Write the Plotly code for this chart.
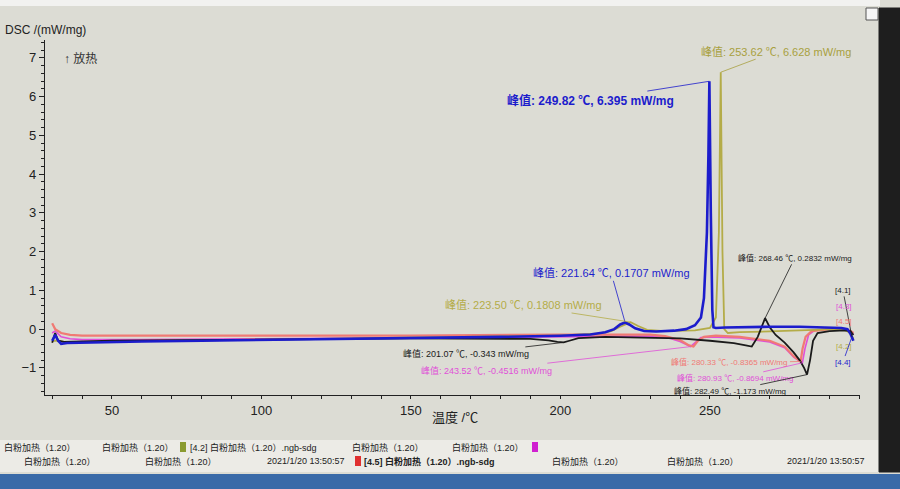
import plotly.graph_objects as go

# --- data (temperature in C, DSC in mW/mg) ---
t_blue = [30, 31, 32, 33, 35, 40, 50, 60, 80, 100, 120, 140, 160, 180, 200, 210, 215, 218, 220,
          221.64, 223, 225, 228, 232, 238, 242, 245, 247, 248, 249, 249.5, 249.82, 250.3, 250.8,
          251.2, 252, 255, 260, 270, 280, 290, 294, 296, 297, 298]
dsc_blue = [-0.3, -0.15, -0.3, -0.38, -0.36, -0.35, -0.33, -0.32, -0.3, -0.28, -0.26, -0.25, -0.23,
            -0.2, -0.17, -0.14, -0.08, 0.0, 0.12, 0.17, 0.12, 0.02, -0.05, -0.06, -0.04, 0.0, 0.1,
            0.3, 0.8, 2.5, 4.5, 6.395, 3.0, 0.5, 0.05, 0.03, 0.04, 0.05, 0.06, 0.06, 0.05, 0.03,
            0.0, -0.12, -0.3]

t_olive = [30, 32, 35, 50, 100, 150, 200, 212, 217, 220, 223.5, 226, 229, 235, 245, 250, 252,
           253, 253.62, 254.2, 254.8, 256, 260, 270, 280, 285, 290, 295, 297, 298]
dsc_olive = [-0.3, -0.3, -0.35, -0.32, -0.27, -0.22, -0.16, -0.12, -0.05, 0.06, 0.18, 0.08, -0.02,
             -0.05, -0.03, 0.03, 0.3, 2.5, 6.628, 2.0, 0.0, -0.1, -0.08, -0.06, -0.04, -0.02, 0.0,
             -0.02, -0.1, -0.25]

t_black = [30, 31, 32, 34, 50, 100, 150, 190, 196, 199, 201.07, 203, 206, 215, 230, 240, 250, 258,
           262, 264, 266, 268.46, 270, 272, 275, 278, 280, 281.5, 282.49, 283.5, 284.5, 286, 290,
           295, 297, 298]
dsc_black = [-0.35, -0.1, -0.3, -0.33, -0.3, -0.27, -0.24, -0.25, -0.29, -0.33, -0.343, -0.3,
             -0.23, -0.2, -0.22, -0.24, -0.3, -0.36, -0.42, -0.45, -0.2, 0.2832, 0.05, -0.15,
             -0.35, -0.6, -0.8, -1.0, -1.173, -0.8, -0.3, -0.1, -0.05, -0.03, -0.05, -0.15]

t_salmon = [30, 31, 33, 36, 40, 60, 100, 150, 200, 230, 235, 240, 243, 244.5, 246, 248, 252, 260,
            270, 275, 278, 280.33, 281, 282, 284, 290, 295, 297, 298]
dsc_salmon = [0.15, 0.0, -0.1, -0.15, -0.17, -0.17, -0.18, -0.17, -0.14, -0.14, -0.18, -0.28,
              -0.42, -0.45, -0.3, -0.2, -0.17, -0.2, -0.3, -0.45, -0.7, -0.8365, -0.5, -0.2,
              -0.05, 0.0, 0.0, -0.05, -0.1]

t_magenta = [30, 31, 33, 36, 40, 60, 100, 150, 200, 230, 236, 240, 243.52, 245, 247, 250, 260,
             270, 275, 278, 280.93, 281.8, 283, 285, 290, 295, 297, 298]
dsc_magenta = [-0.1, -0.05, -0.2, -0.25, -0.27, -0.27, -0.25, -0.22, -0.18, -0.18, -0.22, -0.32,
               -0.4516, -0.35, -0.22, -0.2, -0.23, -0.33, -0.48, -0.72, -0.8694, -0.5, -0.15,
               -0.03, 0.0, 0.0, -0.05, -0.12]

series = [
    ("[4.3]", t_magenta, dsc_magenta, "#e050d8", 1.6),
    ("[4.5]", t_salmon, dsc_salmon, "#f07a74", 2.2),
    ("[4.2]", t_olive, dsc_olive, "#b4ac48", 1.8),
    ("[4.1]", t_black, dsc_black, "#1a1a1a", 1.8),
    ("[4.4]", t_blue, dsc_blue, "#1c1ccc", 2.6),
]

# peak labels: (temperature, value, text, colour, label x, label y, size, bold)
peaks = [
    (253.62, 6.628, "峰值: 253.62 ℃, 6.628 mW/mg", "#a8a040", 272, 7.16, 11, False),
    (249.82, 6.395, "峰值: 249.82 ℃, 6.395 mW/mg", "#1c1ccc", 210, 5.91, 12, True),
    (221.64, 0.1707, "峰值: 221.64 ℃, 0.1707 mW/mg", "#1c1ccc", 217, 1.44, 11, False),
    (223.50, 0.1808, "峰值: 223.50 ℃, 0.1808 mW/mg", "#b4ac48", 187.5, 0.61, 11, False),
    (201.07, -0.343, "峰值: 201.07 ℃, -0.343 mW/mg", "#1a1a1a", 168.4, -0.64, 9, False),
    (243.52, -0.4516, "峰值: 243.52 ℃, -0.4516 mW/mg", "#e050d8", 175.4, -1.06, 9, False),
    (268.46, 0.2832, "峰值: 268.46 ℃, 0.2832 mW/mg", "#1a1a1a", 278.4, 1.84, 8, False),
    (280.33, -0.8365, "峰值: 280.33 ℃, -0.8365 mW/mg", "#f07a74", 256.7, -0.86, 8, False),
    (280.93, -0.8694, "峰值: 280.93 ℃, -0.8694 mW/mg", "#e050d8", 258.4, -1.27, 8, False),
    (282.49, -1.173, "峰值: 282.49 ℃, -1.173 mW/mg", "#1a1a1a", 256.7, -1.6, 8, False),
]

# curve end tags: (tag, colour, label y)
tags = [("[4.1]", "#1a1a1a", 1.0), ("[4.3]", "#e050d8", 0.59), ("[4.5]", "#f07a74", 0.2),
        ("[4.2]", "#b4ac48", -0.44), ("[4.4]", "#1c1ccc", -0.85)]

fig = go.Figure()
for name, t, d, col, w in series:
    fig.add_trace(go.Scatter(x=t, y=d, mode="lines", name=name,
                             line=dict(color=col, width=w), showlegend=False))

for tx, ty, txt, col, lx, ly, sz, bold in peaks:
    fig.add_annotation(x=tx, y=ty, ax=lx, ay=ly, axref="x", ayref="y",
                       text=f"<b>{txt}</b>" if bold else txt, showarrow=True, arrowhead=0,
                       arrowwidth=0.8, arrowcolor=col, font=dict(size=sz, color=col))

for tag, col, ly in tags:
    if tag in ("[4.1]", "[4.4]"):
        fig.add_annotation(x=297.5, y=-0.2, ax=294.5, ay=ly, axref="x", ayref="y", text=tag,
                           showarrow=True, arrowhead=0, arrowwidth=0.8, arrowcolor=col,
                           font=dict(size=8, color=col))
    else:
        fig.add_annotation(x=295, y=ly, text=tag, showarrow=False,
                           font=dict(size=8, color=col))


def px(p):
    return (p - 45) / 815.0


def py(p):
    return (395 - p) / 355.0


# screen furniture around the chart
fig.add_shape(type="rect", xref="paper", yref="paper", x0=px(0), x1=px(900), y0=py(440),
              y1=py(472), fillcolor="#ecebe6", line_width=0, layer="below")
fig.add_shape(type="rect", xref="paper", yref="paper", x0=px(0), x1=px(900), y0=py(489),
              y1=py(474), fillcolor="#3a6aa8", line_width=0)
fig.add_shape(type="rect", xref="paper", yref="paper", x0=px(0), x1=px(880), y0=py(6),
              y1=py(0), fillcolor="#f2f2f0", line_width=0)
fig.add_shape(type="rect", xref="paper", yref="paper", x0=px(879), x1=px(900), y0=py(472),
              y1=py(8), fillcolor="#1e1e1e", line=dict(color="#1e1e1e", width=1), layer="above")
fig.add_shape(type="rect", xref="paper", yref="paper", x0=px(866), x1=px(878), y0=py(20),
              y1=py(8), fillcolor="#f6f6f6", line=dict(color="#555", width=1))

legend_rows = [
    (2, 447, "白粉加热（1.20）"), (100, 447, "白粉加热（1.20）"),
    (188, 447, "[4.2] 白粉加热（1.20）.ngb-sdg"), (350, 447, "白粉加热（1.20）"),
    (450, 447, "白粉加热（1.20）"),
    (22, 461, "白粉加热（1.20）"), (143, 461, "白粉加热（1.20）"),
    (265, 461, "2021/1/20 13:50:57"), (362, 461, "<b>[4.5] 白粉加热（1.20）.ngb-sdg</b>"),
    (550, 461, "白粉加热（1.20）"), (665, 461, "白粉加热（1.20）"),
    (785, 461, "2021/1/20 13:50:57"),
]
for lx, ly, txt in legend_rows:
    fig.add_annotation(xref="paper", yref="paper", x=px(lx), y=py(ly), text=txt,
                       showarrow=False, xanchor="left", yanchor="middle",
                       font=dict(size=9, color="#222"))
for lx, ly, col in [(180, 447, "#8a9a30"), (532, 447, "#d020d0"), (355, 461, "#e03030")]:
    fig.add_shape(type="rect", xref="paper", yref="paper", x0=px(lx), x1=px(lx + 6),
                  y0=py(ly + 5), y1=py(ly - 5), fillcolor=col, line_width=0)

fig.add_annotation(xref="paper", yref="paper", x=px(3), y=py(30), text="DSC /(mW/mg)",
                   showarrow=False, xanchor="left", yanchor="middle",
                   font=dict(size=12, color="#222"))
fig.add_annotation(xref="paper", yref="paper", x=px(62), y=py(58), text="↑ 放热",
                   showarrow=False, xanchor="left", yanchor="middle",
                   font=dict(size=12, color="#333"))
fig.add_annotation(xref="paper", yref="paper", x=px(455), y=py(418), text="温度 /℃",
                   showarrow=False, yanchor="middle", font=dict(size=13, color="#222"))

fig.update_layout(
    width=900, height=489,
    margin=dict(l=45, r=40, t=40, b=94),
    paper_bgcolor="#dcdcd4", plot_bgcolor="#dcdcd4",
    font=dict(family="Liberation Sans, Noto Sans CJK SC, sans-serif", color="#222"),
    xaxis=dict(range=[27.6, 300.2], tickvals=[50, 100, 150, 200, 250], showgrid=False,
               zeroline=False, showline=True, linecolor="#222", linewidth=1.2,
               ticks="outside", ticklen=3, tickcolor="#222", tickfont=dict(size=13),
               minor=dict(dtick=10, ticks="outside", ticklen=3, tickcolor="#222")),
    yaxis=dict(range=[-1.70, 7.46], dtick=1, showgrid=False, zeroline=False, showline=True,
               linecolor="#222", linewidth=1.2, ticks="outside", ticklen=5, tickcolor="#222",
               tickfont=dict(size=13),
               minor=dict(dtick=0.2, ticks="outside", ticklen=3, tickcolor="#222")),
)

# page has a default 8px body margin; drop it so the 900x489 figure fills the window
fig.write_html("out.html", config={"displayModeBar": False},
               post_script="document.body.style.margin='0';document.body.style.overflow='hidden';")
